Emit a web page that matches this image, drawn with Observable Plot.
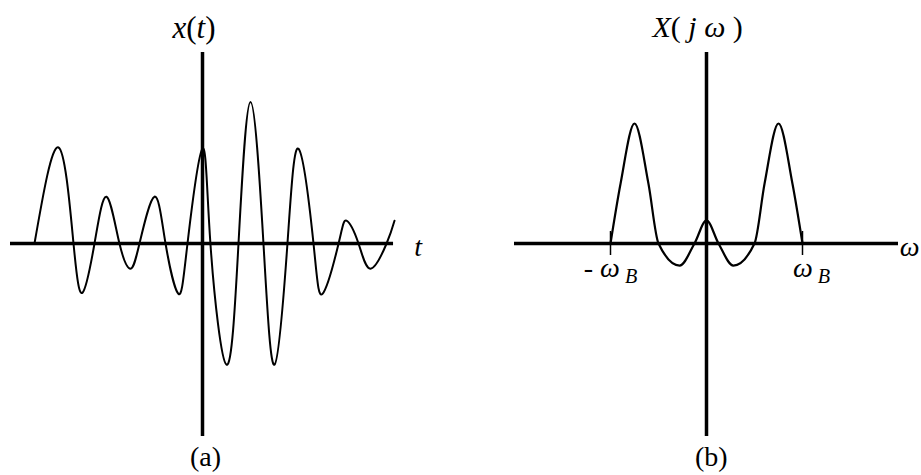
<!DOCTYPE html>
<html>
<head>
<meta charset="utf-8">
<script src="https://cdn.jsdelivr.net/npm/d3@7"></script>
<script src="https://cdn.jsdelivr.net/npm/@observablehq/plot@0.6"></script>
<style>
  html, body { margin: 0; padding: 0; background: #fff; }
  #chart { display: flex; width: 921px; height: 475px; overflow: hidden; }
  #chart svg { overflow: visible; }
  #chart svg text { font-family: "Liberation Serif", "Times New Roman", serif; }
</style>
</head>
<body>
<div id="chart"></div>
<script>
// (a) time signal x(t): samples at its extrema and axis crossings
const signalT = [-7, -6, -5.375, -5, -4.5, -4, -3.46, -3, -2.625, -2, -1.54, -1, -0.625, 0, 0.33, 1, 1.5, 2, 2.54, 3, 3.54, 4, 4.625, 5, 5.67, 6, 6.5, 7, 7.67, 8];
const signalX = [0, 4, 0, -2.05, 0, 1.95, 0, -1.05, 0, 1.95, 0, -2.1, 0, 3.95, 0, -5.05, 0, 5.9, 0, -5.05, 0, 3.95, 0, -2.1, 0, 0.95, 0, -1.05, 0, 0.95];

// (b) spectrum X(jω), band-limited to |ω| <= ωB
const omega = [-4, -3.58, -3, -2.42, -2, -1.12, -0.5, 0, 0.5, 1.12, 2, 2.42, 3, 3.58, 4];
const spectrum = [0, 2.5, 5, 2.5, 0, -0.92, 0, 0.96, 0, -0.92, 0, 2.5, 5, 2.5, 0];
const omegaTicks = [-4, 4];
const omegaTickLabels = ["- ω_B", "ω_B"];
const omegaTickLabelPos = [-4.0, 4.375];

// text labels: [text, position along axis, height, anchor, math style, size]
const leftLabels = [
  ["x(t)", -1.25, 8.58, "start", true, 31],
  ["t", 8.98, -0.5, "middle", true, 28],
  ["(a)", 0.125, -9.25, "middle", false, 28]
];
const rightLabels = [
  ["X( j ω )", -2.25, 8.6, "start", true, 30],
  ["ω", 8.46, -0.5, "middle", true, 28],
  ["(b)", 0.2, -9.25, "middle", false, 28]
];

const FONT = '"Liberation Serif", "Times New Roman", serif';
const SIZE = 28;

function labelMarks(labels) {
  return labels.map(([text, px, py, anchor, , size]) =>
    Plot.text([text], {
      x: () => px, y: () => py, text: d => d,
      textAnchor: anchor, lineAnchor: "bottom",
      fontSize: size, fontFamily: FONT, fill: "black"
    })
  );
}

// letters italic, punctuation upright, "_" marks a subscript
function styleText(textEl, str, math) {
  textEl.text(null).attr("xml:space", "preserve").style("white-space", "pre");
  let sub = false;
  for (const ch of str) {
    if (ch === "_") { sub = true; continue; }
    const ts = textEl.append("tspan").text(ch);
    if (math && /[A-Za-zω]/.test(ch)) ts.attr("font-style", "italic");
    if (sub) { ts.attr("font-size", "0.72em").attr("dy", "0.3em").attr("dx", "0.25em"); sub = false; }
  }
}

// typeset every label of a panel according to its style flag
function restyle(svg, labels) {
  const math = new Map(labels.map(([text, , , , m]) => [text, m]));
  d3.select(svg).selectAll("text").each(function () {
    const el = d3.select(this);
    const s = el.text();
    if (math.has(s)) styleText(el, s, math.get(s));
  });
}

const common = {
  height: 475,
  marginTop: 51, marginBottom: 40,
  x: {domain: [-8, 8], axis: null},
  y: {domain: [-8, 8], axis: null},
  style: {fontFamily: FONT, background: "white", overflow: "visible"}
};

const left = Plot.plot({
  ...common,
  width: 460, marginLeft: 10, marginRight: 66,
  marks: [
    Plot.ruleY([0], {x1: -8, x2: 7.96, stroke: "black", strokeWidth: 3.5}),
    Plot.ruleX([0], {y1: -8.04, y2: 7.96, stroke: "black", strokeWidth: 3.5}),
    Plot.line(signalT.map((t, i) => ({t, v: signalX[i]})), {
      x: "t", y: "v", curve: "natural", stroke: "black", strokeWidth: 2
    }),
    ...labelMarks(leftLabels)
  ]
});
restyle(left, leftLabels);

const right = Plot.plot({
  ...common,
  width: 461, marginLeft: 54, marginRight: 23,
  marks: [
    Plot.ruleY([0], {x1: -8, x2: 8, stroke: "black", strokeWidth: 3.5}),
    Plot.ruleX([0], {y1: -8.04, y2: 7.96, stroke: "black", strokeWidth: 3.5}),
    Plot.ruleX(omegaTicks, {y1: -0.5, y2: 0.5, stroke: "black", strokeWidth: 1.5}),
    Plot.line(omega.map((w, i) => ({w, v: spectrum[i]})), {
      x: "w", y: "v", curve: "monotone-x", stroke: "black", strokeWidth: 2.2
    }),
    Plot.text(omegaTickLabels, {
      x: (d, i) => omegaTickLabelPos[i], y: () => -1.375, text: d => d,
      textAnchor: "middle", lineAnchor: "bottom", fontSize: SIZE, fontFamily: FONT, fill: "black"
    }),
    ...labelMarks(rightLabels)
  ]
});
restyle(right, [...rightLabels, ...omegaTickLabels.map(t => [t, 0, 0, "middle", true])]);

document.getElementById("chart").append(left, right);
</script>
</body>
</html>
